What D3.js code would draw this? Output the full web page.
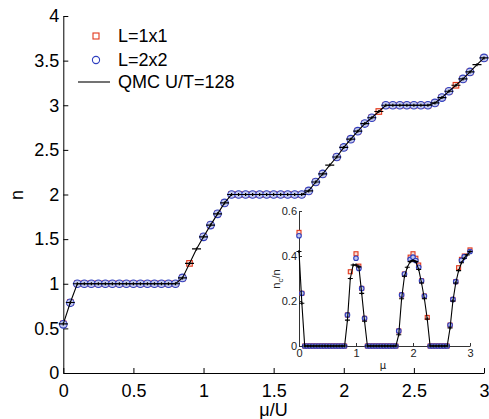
<!DOCTYPE html>
<html><head><meta charset="utf-8">
<script src="https://cdn.jsdelivr.net/npm/d3@7"></script>
<style>
html,body{margin:0;padding:0;background:#fff;}
svg{display:block;font-family:"Liberation Sans",Arial,sans-serif;}
</style></head>
<body>
<svg id="c" width="489" height="419"></svg>
<script>
// ---------- data ----------
const mu = [0,0.05,0.1,0.15,0.2,0.25,0.3,0.35,0.4,0.45,0.5,0.55,0.6,0.65,0.7,0.75,0.8,0.85,0.9,0.95,
  1.0,1.05,1.1,1.15,1.2,1.25,1.3,1.35,1.4,1.45,1.5,1.55,1.6,1.65,1.7,1.75,1.8,1.85,1.9,1.95,
  2.0,2.05,2.1,2.15,2.2,2.25,2.3,2.35,2.4,2.45,2.5,2.55,2.6,2.65,2.7,2.75,2.8,2.85,2.9,2.95,3.0];

// main panel: density n
const qmcN = [0.55,0.79,1,1,1,1,1,1,1,1,1,1,1,1,1,1,1,1.065,1.228,1.39,
  1.526,1.657,1.783,1.906,2,2,2,2,2,2,2,2,2,2,2,2.04,2.14,2.23,2.33,2.42,
  2.527,2.62,2.71,2.795,2.86,2.93,3,3,3,3,3,3,3,3.026,3.086,3.157,3.224,3.295,3.373,3.455,3.53];
const nL1 = [0.55,0.79,1,1,1,1,1,1,1,1,1,1,1,1,1,1,1,1.065,1.228,null,
  1.526,1.657,1.783,1.906,2,2,2,2,2,2,2,2,2,2,2,2.04,2.14,2.23,null,2.42,
  2.527,2.62,2.71,2.795,2.86,2.93,3,3,3,3,3,3,3,3.026,3.086,3.157,3.224,3.295,3.373,null,3.53];
const nL2 = [0.545,0.787,1,1,1,1,1,1,1,1,1,1,1,1,1,1,1,1.065,null,null,
  1.526,1.657,1.783,1.906,2,2,2,2,2,2,2,2,2,2,2,2.04,2.14,2.23,null,2.42,
  2.527,2.62,2.71,2.795,2.86,null,3,3,3,3,3,3,3,3.026,3.086,3.157,null,3.295,3.373,null,3.53];

// inset: n_c/n
const qmcNc = [0.42,0.19,0,0,0,0,0,0,0,0,0,0,0,0,0,0,0,0.115,0.30,0.36,
  0.36,0.352,0.234,0.11,0,0,0,0,0,0,0,0,0,0,0,0.05,0.21,0.31,0.35,0.375,
  0.38,0.375,0.34,0.28,0.21,0.12,0,0,0,0,0,0,0,0.08,0.2,0.28,0.335,0.37,0.39,0.405,0.42];
const ncL1 = [0.505,0.234,0,0,0,0,0,0,0,0,0,0,0,0,0,0,0,0.138,0.33,null,
  0.41,0.355,0.256,0.123,0,0,0,0,0,0,0,0,0,0,0,0.067,0.227,0.32,null,0.395,
  0.41,0.39,0.36,0.29,0.222,0.127,0,0,0,0,0,0,0,0.093,0.207,0.286,0.348,0.385,0.40,null,0.427];
const ncL2 = [0.49,0.234,0,0,0,0,0,0,0,0,0,0,0,0,0,0,0,0.138,null,null,
  0.39,0.345,0.256,0.123,0,0,0,0,0,0,0,0,0,0,0,0.067,0.227,0.32,null,0.385,
  0.395,0.38,0.35,0.29,0.222,null,0,0,0,0,0,0,0,0.093,0.207,0.286,null,0.381,0.397,null,0.42];

const xTicks = [0,0.5,1,1.5,2,2.5,3];
const yTicks = [0,0.5,1,1.5,2,2.5,3,3.5,4];
const inXTicks = [0,1,2,3];
const inYTicks = [0,0.2,0.4,0.6];
const legendLabels = ["L=1x1","L=2x2","QMC U/T=128"];

// ---------- drawing ----------
const svg = d3.select("#c");
const RED = "#e2381c", BLUE = "#2f3fbf", BFILL = "#c3c9ee", RFILL = "#f8e0d8";

const x = d3.scaleLinear().domain([0,3]).range([63.3,484]);
const y = d3.scaleLinear().domain([0,4]).range([373,16]);

function fmt(d){ return String(d); }

const gx = svg.append("g").attr("transform","translate(0,373)")
  .call(d3.axisBottom(x).tickValues(xTicks).tickFormat(fmt).tickSizeInner(-5).tickSizeOuter(0).tickPadding(8));
const gy = svg.append("g").attr("transform","translate(63.3,0)")
  .call(d3.axisLeft(y).tickValues(yTicks).tickFormat(fmt).tickSizeInner(-5).tickSizeOuter(0).tickPadding(4));
[gx,gy].forEach(g=>{
  g.selectAll("text").attr("font-size",18).attr("fill","#000").attr("font-family","Liberation Sans, Arial, sans-serif");
  g.select(".domain").attr("stroke","#000").attr("stroke-width",1);
  g.selectAll(".tick line").attr("stroke","#000");
});
gx.selectAll("text").attr("dy","0.9em");

svg.append("text").attr("x",273.5).attr("y",416).attr("text-anchor","middle")
  .attr("font-size",18).attr("fill","#000").text("μ/U");
svg.append("text").attr("transform","translate(23,195) rotate(-90)").attr("text-anchor","middle")
  .attr("font-size",18).attr("fill","#000").text("n");

function drawSeries(g, xs, ys, vals1, vals2, valsQ, sq, r, cap) {
  const p1 = mu.map((m,i)=>({m, v: vals1[i]})).filter(d=>d.v!==null);
  const p2 = mu.map((m,i)=>({m, v: vals2[i]})).filter(d=>d.v!==null);
  const pq = mu.map((m,i)=>({m, v: valsQ[i]}));
  g.append("g").selectAll("rect").data(p1).join("rect")
    .attr("x",d=>xs(d.m)-sq/2).attr("y",d=>ys(d.v)-sq/2)
    .attr("width",sq).attr("height",sq)
    .attr("fill",RFILL).attr("stroke",RED).attr("stroke-width",1.1);
  g.append("g").selectAll("circle").data(p2).join("circle")
    .attr("cx",d=>xs(d.m)).attr("cy",d=>ys(d.v)).attr("r",r)
    .attr("fill",BFILL).attr("stroke",BLUE).attr("stroke-width",1.1);
  const line = d3.line().x(d=>xs(d.m)).y(d=>ys(d.v));
  g.append("path").datum(pq).attr("d",line).attr("fill","none").attr("stroke","#000").attr("stroke-width",1.1);
  g.append("g").selectAll("path").data(pq).join("path")
    .attr("d",d=>`M${xs(d.m)-cap},${ys(d.v)}H${xs(d.m)+cap}M${xs(d.m)},${ys(d.v)-1.5}V${ys(d.v)+1.5}`)
    .attr("stroke","#000").attr("stroke-width",1.2).attr("fill","none");
}

drawSeries(svg.append("g"), x, y, nL1, nL2, qmcN, 5.6, 3.8, 4.5);

// legend
const lg = svg.append("g");
lg.append("rect").attr("x",93).attr("y",33).attr("width",6).attr("height",6)
  .attr("fill","#fff").attr("stroke",RED).attr("stroke-width",1.1);
lg.append("circle").attr("cx",96).attr("cy",60).attr("r",3.6)
  .attr("fill","#fff").attr("stroke",BLUE).attr("stroke-width",1.1);
lg.append("line").attr("x1",78).attr("x2",110).attr("y1",82).attr("y2",82)
  .attr("stroke","#000").attr("stroke-width",1.1);
lg.selectAll("text").data(legendLabels).join("text")
  .attr("x",118).attr("y",(d,i)=>[42,66,88][i]).attr("font-size",18).attr("fill","#000").text(d=>d);

// inset
const ix = d3.scaleLinear().domain([0,3]).range([299,470]);
const iy = d3.scaleLinear().domain([0,0.6]).range([346,211]);
const igx = svg.append("g").attr("transform","translate(0,346)")
  .call(d3.axisBottom(ix).tickValues(inXTicks).tickFormat(fmt).tickSizeInner(-3).tickSizeOuter(0).tickPadding(3));
const igy = svg.append("g").attr("transform","translate(299,0)")
  .call(d3.axisLeft(iy).tickValues(inYTicks).tickFormat(fmt).tickSizeInner(-3).tickSizeOuter(0).tickPadding(2));
[igx,igy].forEach(g=>{
  g.selectAll("text").attr("font-size",11).attr("fill","#222").attr("font-family","Liberation Sans, Arial, sans-serif");
  g.select(".domain").attr("stroke","#333").attr("stroke-width",1);
  g.selectAll(".tick line").attr("stroke","#333");
});
svg.append("text").attr("x",383).attr("y",369).attr("text-anchor","middle")
  .attr("font-family","DejaVu Sans, sans-serif")
  .attr("font-size",10).attr("fill","#111").style("fill","#111").text("μ");
const yl = svg.append("text").attr("transform","translate(280,279) rotate(-90)").attr("text-anchor","middle")
  .attr("font-size",11).attr("fill","#222");
yl.append("tspan").text("n");
yl.append("tspan").attr("font-size",8).attr("dy",3).text("c");
yl.append("tspan").attr("dy",-3).text("/n");

drawSeries(svg.append("g"), ix, iy, ncL1, ncL2, qmcNc, 4, 2.3, 2.5);
</script>
</body></html>
